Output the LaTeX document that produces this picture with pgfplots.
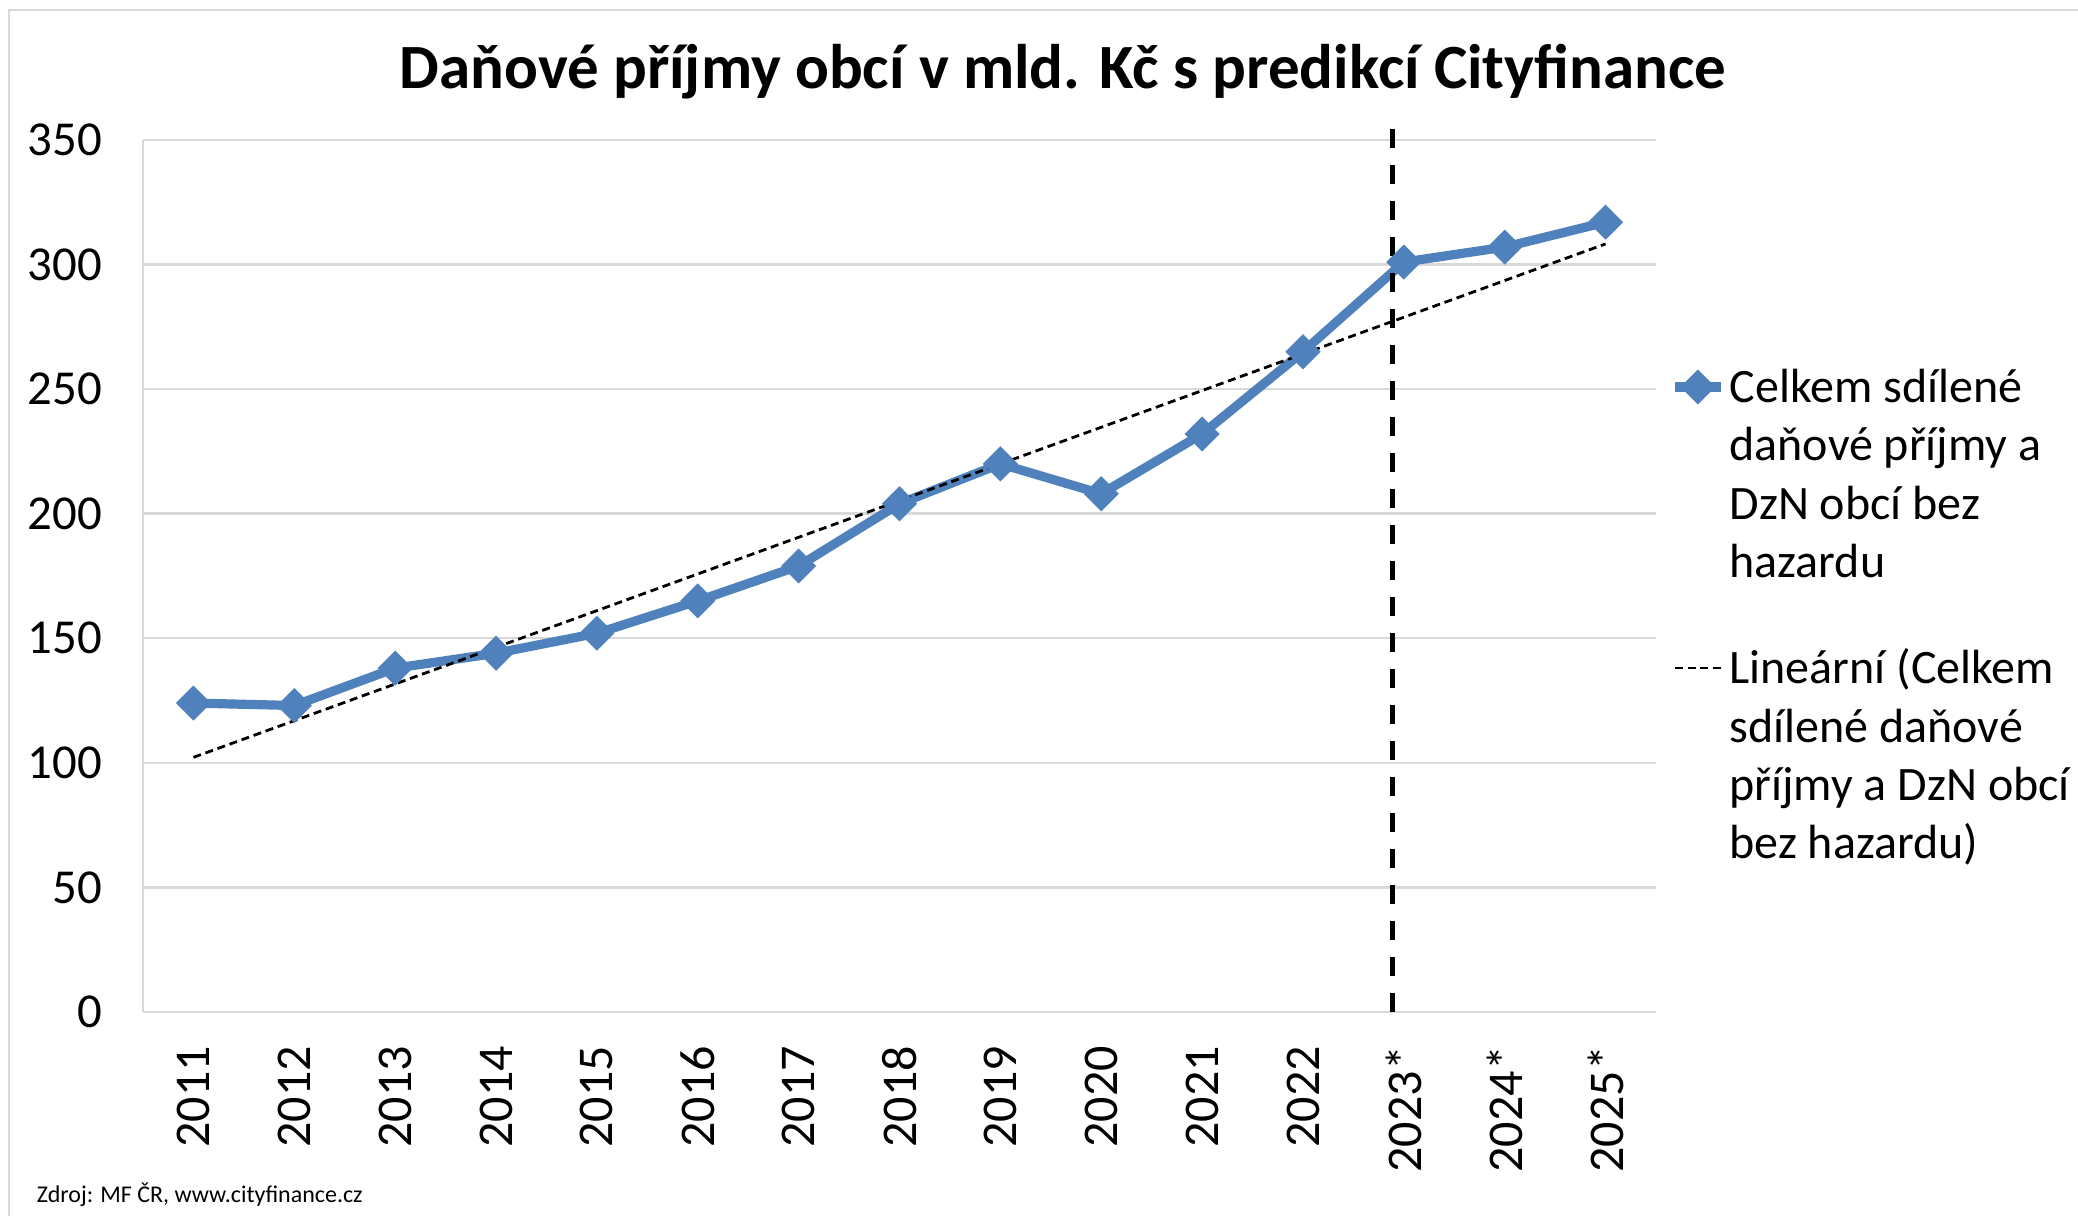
\documentclass[border=0pt]{standalone}
\usepackage{fontspec}
\setmainfont{Carlito}
\usepackage{pgfplots}
\pgfplotsset{compat=1.18}
\definecolor{exblue}{HTML}{4F81BD}
\definecolor{gridgray}{HTML}{D9D9D9}
\begin{document}
\begin{tikzpicture}
\path[use as bounding box] (0,0) rectangle (519.5pt,304pt);
\draw[gray!30, line width=0.6pt] (2.25pt,0) -- (2.25pt,301.5pt) -- (519.5pt,301.5pt);
\node[font=\fontsize{15.75}{18}\selectfont\bfseries] at (265.8pt,286.1pt) {Daňové příjmy obcí v mld. Kč s predikcí Cityfinance};
\node[font=\fontsize{6}{7}\selectfont, anchor=west, inner sep=0pt] at (9pt,5.2pt) {Zdroj: MF ČR, www.cityfinance.cz};
\begin{axis}[
  at={(35.75pt,51pt)}, anchor=south west,
  scale only axis, width=378.25pt, height=218pt,
  xmin=-0.5, xmax=14.5, ymin=0, ymax=350,
  xtick={0,1,2,3,4,5,6,7,8,9,10,11,12,13,14},
  xticklabels={2011,2012,2013,2014,2015,2016,2017,2018,2019,2020,2021,2022,2023*,2024*,2025*},
  ytick={0,50,100,150,200,250,300,350},
  /pgf/number format/assume math mode=true,
  x tick label style={rotate=90, anchor=east, font=\fontsize{12.5}{14}\selectfont},
  y tick label style={font=\fontsize{12.2}{14}\selectfont},
  major tick length=0pt,
  xticklabel shift=5pt, yticklabel shift=6.7pt,
  ymajorgrids, grid style={gridgray, line width=0.6pt},
  axis x line*=bottom, axis y line*=left,
  axis line style={gridgray, line width=0.6pt, -},
  clip=false,
  legend style={draw=none, fill=none, at={(1.0088,0.738)}, anchor=north west,
    font=\fontsize{12}{14.6}\selectfont, cells={anchor=base west},
    nodes={inner sep=0pt, text depth=}, column sep=0.95pt,
    row sep=17.6pt, inner sep=0pt},
  legend image code/.code={\draw[mark repeat=2,mark phase=2,#1] plot coordinates {(0pt,3.9pt)(5.8pt,3.9pt)(11.6pt,3.9pt)};},
]
\addplot[exblue, line width=2.3pt, mark=square*, mark size=2.9pt,
  mark options={rotate=45, solid, fill=exblue, draw=exblue, line width=0.4pt}]
  coordinates {
  (0,124) (1,123) (2,138) (3,144) (4,152) (5,165) (6,179) (7,204)
  (8,220) (9,208) (10,232) (11,265) (12,301) (13,307) (14,317)
  };
\addlegendentry{\parbox[t]{110pt}{\raggedright Celkem sdílené\\daňové příjmy a\\DzN obcí bez\\hazardu}}
\addplot[black, line width=0.7pt, dash pattern=on 2pt off 1.2pt]
  coordinates {(0,102.2) (14,308.3)};
\addlegendentry{\parbox[t]{110pt}{\raggedright Lineární (Celkem\\sdílené daňové\\příjmy a DzN obcí\\bez hazardu)}}
\addplot[black, line width=1.3pt, dash pattern=on 4.7pt off 4.3pt, forget plot]
  coordinates {(11.89,0) (11.89,356)};
\end{axis}
\end{tikzpicture}
\end{document}
